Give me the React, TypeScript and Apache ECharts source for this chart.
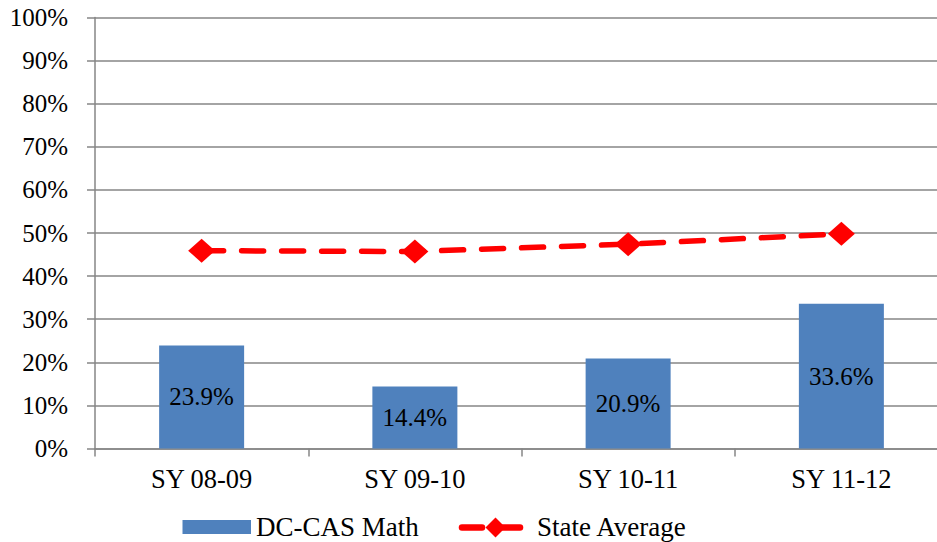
import React, { useEffect, useRef } from "react";
import * as echarts from "echarts";

// School years on the category axis
const categories = ["SY 08-09", "SY 09-10", "SY 10-11", "SY 11-12"];
// Percent proficient, DC-CAS Math
const mathValues = [23.9, 14.4, 20.9, 33.6];
// Percent proficient, state average
const stateAverage = [45.9, 45.7, 47.4, 49.8];
// Legend entries
const legendNames = ["DC-CAS Math", "State Average"];

const FONT = "Liberation Serif";
const BLUE = "#4F81BD";
const RED = "#FF0000";
const GRAY = "#868686";

export default function App() {
  const ref = useRef<HTMLDivElement>(null);

  useEffect(() => {
    if (!ref.current) return;
    const chart = echarts.init(ref.current, undefined, { renderer: "svg" });
    chart.setOption({
      animation: false,
      backgroundColor: "#ffffff",
      textStyle: { fontFamily: FONT, color: "#000" },
      grid: { left: 95, top: 17.5, width: 853, height: 431, containLabel: false },
      xAxis: {
        type: "category",
        data: categories,
        axisLine: { lineStyle: { color: GRAY, width: 1.5 } },
        axisTick: { show: true, length: 8, lineStyle: { color: GRAY, width: 1.5 } },
        axisLabel: { fontFamily: FONT, fontSize: 26.5, color: "#000", margin: 17 },
      },
      yAxis: {
        type: "value",
        min: 0,
        max: 100,
        interval: 10,
        axisLine: { show: true, lineStyle: { color: GRAY, width: 1.5 } },
        axisTick: { show: true, length: 8, lineStyle: { color: GRAY, width: 1.5 } },
        splitLine: { show: true, lineStyle: { color: GRAY, width: 1.5 } },
        axisLabel: {
          fontFamily: FONT,
          fontSize: 25,
          color: "#000",
          margin: 27,
          formatter: (v: number) => `${v}%`,
        },
      },
      series: [
        {
          name: legendNames[0],
          type: "bar",
          data: mathValues,
          barWidth: 85,
          itemStyle: { color: BLUE },
          label: {
            show: true,
            position: "inside",
            fontFamily: FONT,
            fontSize: 25,
            color: "#000",
            formatter: (p: any) => `${p.value}%`,
          },
        },
        {
          name: legendNames[1],
          type: "line",
          data: stateAverage,
          z: 5,
          symbol: "diamond",
          symbolSize: [27, 24],
          itemStyle: { color: RED },
          lineStyle: { color: RED, width: 5.5, type: [22, 18], cap: "round" },
        },
      ],
      // Legend drawn by hand: swatch + label, dashed line with diamond + label
      graphic: [
        { type: "rect", shape: { x: 182.5, y: 520, width: 68.5, height: 14 }, style: { fill: BLUE } },
        {
          type: "text",
          x: 256,
          y: 527,
          style: { text: legendNames[0], font: `27px ${FONT}`, fill: "#000", verticalAlign: "middle" },
        },
        {
          type: "line",
          shape: { x1: 462, y1: 527.5, x2: 482, y2: 527.5 },
          style: { stroke: RED, lineWidth: 6.5, lineCap: "round" },
        },
        {
          type: "line",
          shape: { x1: 503, y1: 527.5, x2: 520, y2: 527.5 },
          style: { stroke: RED, lineWidth: 6.5, lineCap: "round" },
        },
        {
          type: "polygon",
          shape: { points: [[495.5, 517.5], [505.5, 527.5], [495.5, 537.5], [485.5, 527.5]] },
          style: { fill: RED },
        },
        {
          type: "text",
          x: 537,
          y: 527,
          style: { text: legendNames[1], font: `27px ${FONT}`, fill: "#000", verticalAlign: "middle" },
        },
      ],
    });
    return () => chart.dispose();
  }, []);

  return (
    <div style={{ width: 937, height: 542, position: "absolute", left: 0, top: 0, overflow: "hidden", background: "#fff" }}>
      <div ref={ref} style={{ width: 960, height: 542 }} />
    </div>
  );
}
